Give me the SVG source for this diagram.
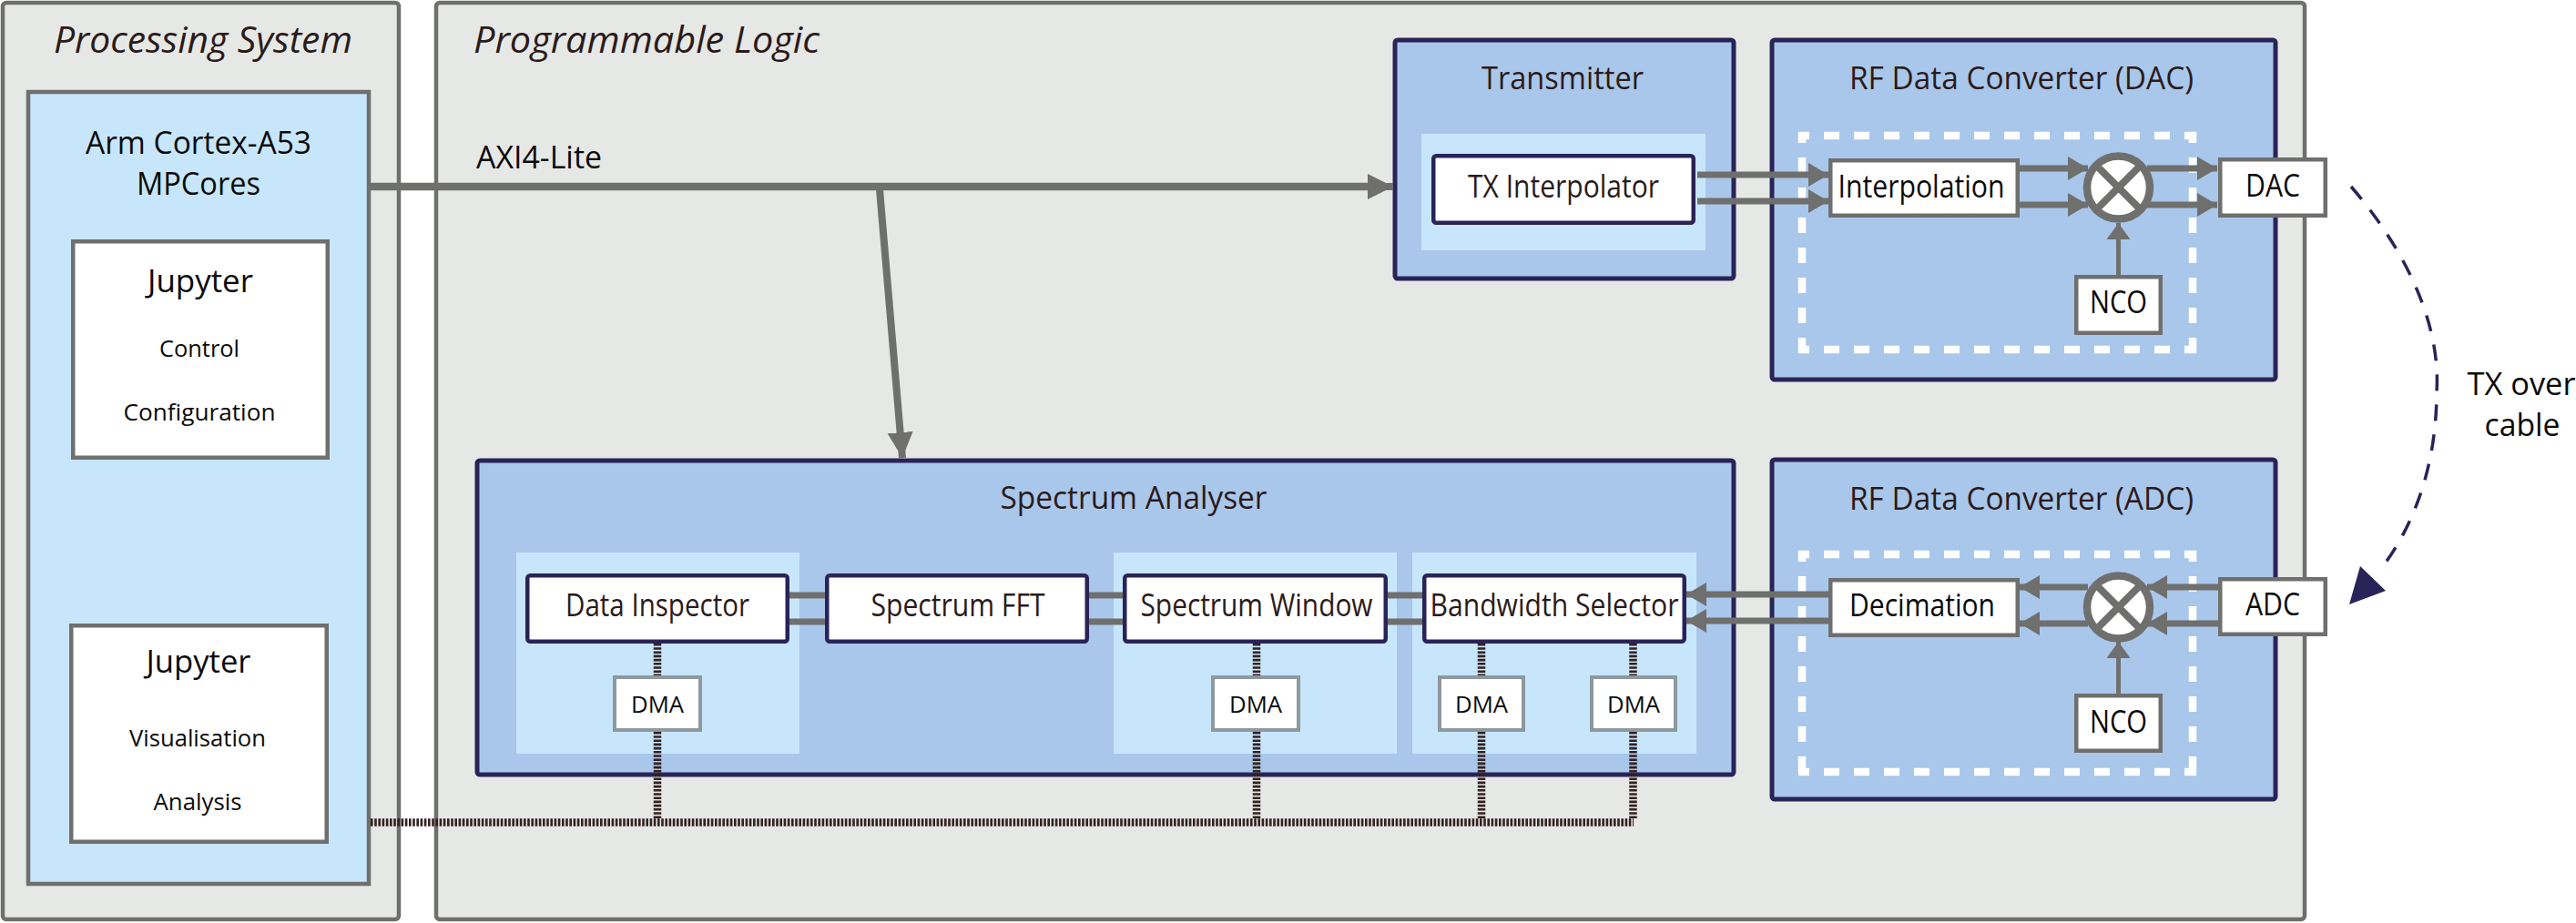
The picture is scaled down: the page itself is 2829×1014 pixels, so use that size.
<svg xmlns="http://www.w3.org/2000/svg" width="2829" height="1014" viewBox="0 0 2829 1014">
<style>
text{font-family:"Open Sans","Noto Sans","Liberation Sans",sans-serif;text-anchor:middle}
.dk{fill:#2b1a1a}
.bk{fill:#0a0a0a}
.t1{font-size:34px}
.t2{font-size:26px}
.it{font-size:40px;font-style:italic;fill:#2b1a1a}
.zone{fill:#e6e8e5;stroke:#6f6f6e;stroke-width:4.500}
.cpu{fill:#c8e6fb;stroke:#6f6f6e;stroke-width:4.500}
.jup{fill:#fff;stroke:#6f6f6e;stroke-width:4.500}
.blue{fill:#a9c7ea;stroke:#2a2357;stroke-width:5}
.pale{fill:#c8e6fb}
.nbox{fill:#fff;stroke:#2a2357;stroke-width:4.500}
.gbox{fill:#fff;stroke:#6f6f6e;stroke-width:4.500}
.dma{fill:#fff;stroke:#8e989e;stroke-width:4}
.wd{fill:none;stroke:#fff;stroke-width:8.500;stroke-dasharray:17 16;stroke-dashoffset:5}
.w{fill:none;stroke:#6f6f6e;stroke-width:7}
.wa{fill:none;stroke:#6f6f6e;stroke-width:7;marker-end:url(#ah)}
.thin{fill:none;stroke:#6f6f6e;stroke-width:8;marker-end:url(#ah2)}
.nco{fill:none;stroke:#6f6f6e;stroke-width:5;marker-end:url(#ah3)}
.dot{fill:none;stroke:#33201f;stroke-width:8.500;stroke-dasharray:2.600 1.600}
.mix{fill:#fff;stroke:#6f6f6e;stroke-width:8.500}
.mx{stroke:#6f6f6e;stroke-width:8;fill:none}
</style>
<defs>
<marker id="ah" markerUnits="userSpaceOnUse" markerWidth="24" markerHeight="28" refX="22" refY="13" orient="auto"><path d="M0 0L22 13L0 26Z" fill="#6f6f6e"/></marker>
<marker id="ah2" markerUnits="userSpaceOnUse" markerWidth="30" markerHeight="30" refX="28" refY="14" orient="auto"><path d="M0 0L28 14L0 28Z" fill="#6f6f6e"/></marker>
<marker id="ah3" markerUnits="userSpaceOnUse" markerWidth="20" markerHeight="28" refX="18" refY="13" orient="auto"><path d="M0 0L18 13L0 26Z" fill="#6f6f6e"/></marker>
</defs>

<g id="processing-system">
<rect class="zone" x="3" y="3" width="435" height="1007" rx="4"/>
<text class="it" x="223" y="58" textLength="328" lengthAdjust="spacingAndGlyphs">Processing System</text>
</g>
<g id="programmable-logic">
<rect class="zone" x="479" y="3" width="2052" height="1007" rx="4"/>
<text class="it" x="710" y="58" textLength="380" lengthAdjust="spacingAndGlyphs">Programmable Logic</text>
</g>
<g id="arm-cortex">
<rect class="cpu" x="31" y="101" width="374" height="870"/>
<text class="bk t1" x="218" y="169" textLength="248" lengthAdjust="spacingAndGlyphs">Arm Cortex-A53</text>
<text class="bk t1" x="218" y="214" textLength="136" lengthAdjust="spacingAndGlyphs">MPCores</text>
</g>
<g id="jupyter-control">
<rect class="jup" x="80.250" y="265.250" width="279.500" height="237.500"/>
<text class="bk t1" x="220" y="321" textLength="116" lengthAdjust="spacingAndGlyphs">Jupyter</text>
<text class="bk t2" x="219" y="392" textLength="88" lengthAdjust="spacingAndGlyphs">Control</text>
<text class="bk t2" x="219" y="462" textLength="167" lengthAdjust="spacingAndGlyphs">Configuration</text>
</g>
<g id="jupyter-visualisation">
<rect class="jup" x="78.250" y="687.250" width="280.500" height="237.500"/>
<text class="bk t1" x="218" y="739" textLength="115" lengthAdjust="spacingAndGlyphs">Jupyter</text>
<text class="bk t2" x="217" y="820" textLength="150" lengthAdjust="spacingAndGlyphs">Visualisation</text>
<text class="bk t2" x="217" y="890" textLength="97" lengthAdjust="spacingAndGlyphs">Analysis</text>
</g>

<g id="transmitter">
<rect class="blue" x="1532" y="44" width="372" height="262" rx="3"/>
<rect class="pale" x="1561" y="147" width="312" height="128"/>
<text class="dk t1" x="1716" y="98" textLength="178" lengthAdjust="spacingAndGlyphs">Transmitter</text>
</g>
<g id="rf-dac">
<rect class="blue" x="1946" y="44" width="553" height="373" rx="3"/>
<text class="dk t1" x="2220" y="98" textLength="378" lengthAdjust="spacingAndGlyphs">RF Data Converter (DAC)</text>
<path class="wd" d="M1975 149H2412M1975 384H2412"/>
<path class="wd" d="M1979 145V388M2408 145V388"/>
</g>
<g id="spectrum-analyser">
<rect class="blue" x="524" y="506" width="1380" height="345" rx="3"/>
<rect class="pale" x="567" y="607" width="311" height="221"/>
<rect class="pale" x="1223" y="607" width="311" height="221"/>
<rect class="pale" x="1551" y="607" width="312" height="221"/>
<text class="dk t1" x="1245" y="559" textLength="293" lengthAdjust="spacingAndGlyphs">Spectrum Analyser</text>
</g>
<g id="rf-adc">
<rect class="blue" x="1946" y="505" width="553" height="373" rx="3"/>
<text class="dk t1" x="2220" y="560" textLength="378" lengthAdjust="spacingAndGlyphs">RF Data Converter (ADC)</text>
<path class="wd" d="M1975 609H2412M1975 848H2412"/>
<path class="wd" d="M1979 605V852M2408 605V852"/>
</g>

<g id="connectors">
<path d="M407 205H1504" fill="none" stroke="#6f6f6e" stroke-width="8.500"/>
<path class="thin" d="M1500 205H1530" stroke-width="8.500"/>
<path class="thin" d="M966 208L991 503"/>
<path class="wa" d="M1864 192H2008"/>
<path class="wa" d="M1864 221H2008"/>
<path class="wa" d="M2218 185H2293"/>
<path class="wa" d="M2218 225H2293"/>
<path class="wa" d="M2358 185H2435"/>
<path class="wa" d="M2358 225H2435"/>
<path class="nco" d="M2326.500 302V245"/>
<path class="wa" d="M2436 645H2358"/>
<path class="wa" d="M2436 685H2358"/>
<path class="wa" d="M2293 645H2218"/>
<path class="wa" d="M2293 685H2218"/>
<path class="wa" d="M2008 653H1852"/>
<path class="wa" d="M2008 682H1852"/>
<path class="nco" d="M2326.500 762V705"/>
<path class="w" d="M867 654H906M867 683H906M1196 654H1233M1196 683H1233M1524 654H1562M1524 683H1562"/>
<path class="dot" d="M722 707V742M722 804V900M1380 707V742M1380 804V900M1627 707V742M1627 804V900M1793.500 707V742M1793.500 804V900"/>
<path class="dot" d="M407 903.500H1794"/>
<path d="M2582 205C2655 290 2680 370 2676 430C2676 510 2652 575 2617 622" fill="none" stroke="#2a2357" stroke-width="3.500" stroke-dasharray="18 15"/>
<path d="M2580 664L2592 622L2620 649Z" fill="#2a2357"/>
</g>

<g id="axi-label"><text class="bk t1" x="592" y="185" textLength="138" lengthAdjust="spacingAndGlyphs">AXI4-Lite</text></g>
<g id="tx-cable-label">
<text class="bk t1" x="2769" y="434" textLength="119" lengthAdjust="spacingAndGlyphs">TX over</text>
<text class="bk t1" x="2770" y="479" textLength="83" lengthAdjust="spacingAndGlyphs">cable</text>
</g>

<g id="tx-interpolator">
<rect class="nbox" x="1574.250" y="171.250" width="285.500" height="73.500" rx="3"/>
<text class="dk t1" x="1717" y="217" textLength="210" lengthAdjust="spacingAndGlyphs">TX Interpolator</text>
</g>
<g id="interpolation">
<rect class="gbox" x="2010.250" y="176.250" width="205.500" height="60.500"/>
<text class="bk t1" x="2110" y="217" textLength="183" lengthAdjust="spacingAndGlyphs">Interpolation</text>
</g>
<g id="dac-mixer">
<circle class="mix" cx="2326.500" cy="206" r="34.500"/>
<path class="mx" d="M2302 181.500L2351 230.500M2351 181.500L2302 230.500"/>
</g>
<g id="dac">
<rect class="gbox" x="2438.250" y="175.250" width="115.500" height="61.500"/>
<text class="bk t1" x="2496" y="216" textLength="60" lengthAdjust="spacingAndGlyphs">DAC</text>
</g>
<g id="nco-dac">
<rect class="gbox" x="2280.250" y="304.250" width="92.500" height="61.500"/>
<text class="bk t1" x="2326.500" y="344" textLength="63" lengthAdjust="spacingAndGlyphs">NCO</text>
</g>
<g id="decimation">
<rect class="gbox" x="2010.250" y="637.250" width="205.500" height="60.500"/>
<text class="bk t1" x="2111" y="677" textLength="160" lengthAdjust="spacingAndGlyphs">Decimation</text>
</g>
<g id="adc-mixer">
<circle class="mix" cx="2326.500" cy="667" r="34.500"/>
<path class="mx" d="M2302 642.500L2351 691.500M2351 642.500L2302 691.500"/>
</g>
<g id="adc">
<rect class="gbox" x="2438.250" y="636.250" width="115.500" height="60.500"/>
<text class="bk t1" x="2496" y="676" textLength="60" lengthAdjust="spacingAndGlyphs">ADC</text>
</g>
<g id="nco-adc">
<rect class="gbox" x="2280.250" y="764.250" width="92.500" height="60.500"/>
<text class="bk t1" x="2326.500" y="805" textLength="63" lengthAdjust="spacingAndGlyphs">NCO</text>
</g>
<g id="data-inspector">
<rect class="nbox" x="579.250" y="632.250" width="285.500" height="72.500" rx="3"/>
<text class="dk t1" x="722" y="677" textLength="202" lengthAdjust="spacingAndGlyphs">Data Inspector</text>
</g>
<g id="spectrum-fft">
<rect class="nbox" x="908.250" y="632.250" width="285.500" height="72.500" rx="3"/>
<text class="dk t1" x="1052" y="677" textLength="191" lengthAdjust="spacingAndGlyphs">Spectrum FFT</text>
</g>
<g id="spectrum-window">
<rect class="nbox" x="1235.250" y="632.250" width="286.500" height="72.500" rx="3"/>
<text class="dk t1" x="1380" y="677" textLength="255" lengthAdjust="spacingAndGlyphs">Spectrum Window</text>
</g>
<g id="bandwidth-selector">
<rect class="nbox" x="1564.250" y="632.250" width="285.500" height="72.500" rx="3"/>
<text class="dk t1" x="1707" y="677" textLength="273" lengthAdjust="spacingAndGlyphs">Bandwidth Selector</text>
</g>
<g id="dma-1">
<rect class="dma" x="675" y="744" width="94" height="58"/>
<text class="bk t2" x="722" y="783" textLength="58" lengthAdjust="spacingAndGlyphs">DMA</text>
</g>
<g id="dma-2">
<rect class="dma" x="1332" y="744" width="94" height="58"/>
<text class="bk t2" x="1379" y="783" textLength="58" lengthAdjust="spacingAndGlyphs">DMA</text>
</g>
<g id="dma-3">
<rect class="dma" x="1581" y="744" width="92" height="58"/>
<text class="bk t2" x="1627" y="783" textLength="58" lengthAdjust="spacingAndGlyphs">DMA</text>
</g>
<g id="dma-4">
<rect class="dma" x="1748" y="744" width="92" height="58"/>
<text class="bk t2" x="1794" y="783" textLength="58" lengthAdjust="spacingAndGlyphs">DMA</text>
</g>
</svg>
